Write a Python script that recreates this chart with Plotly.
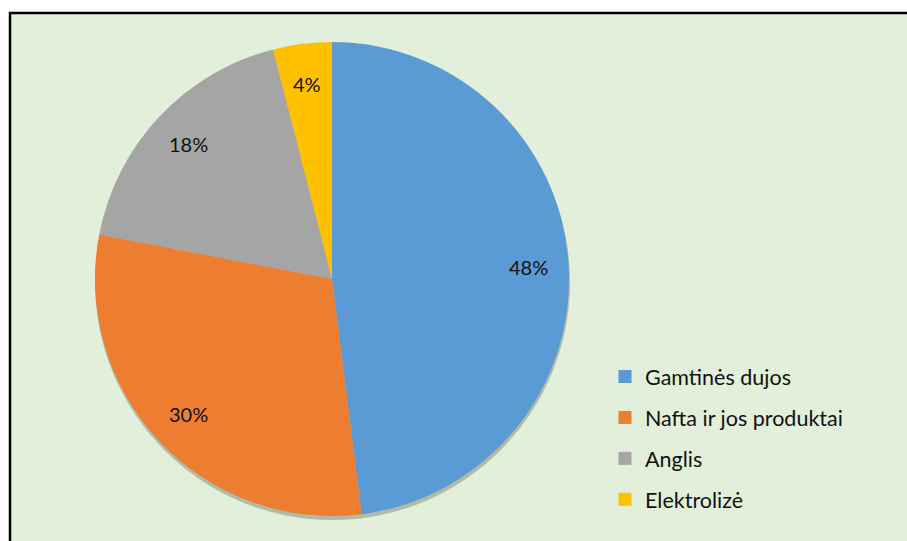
import math
import plotly.graph_objects as go

# Energy sources and their shares (%)
sources = ["Gamtinės dujos", "Nafta ir jos produktai", "Anglis", "Elektrolizė"]
shares = [48, 30, 18, 4]
colors = ["#5B9BD5", "#ED7D31", "#A5A5A5", "#FFC000"]

W, H = 907, 541
FONT = "Lato"

# pie placement in pixels
cx, cy, r = 332, 279, 237
label_radius = 0.83  # share labels sit in the outer part of each slice

fig = go.Figure()

fig.add_trace(go.Pie(
    labels=sources,
    values=shares,
    sort=False,
    direction="clockwise",
    rotation=0,
    marker=dict(colors=colors, line=dict(width=0)),
    textinfo="none",
    domain=dict(x=[(cx - r) / W, (cx + r) / W],
                y=[1 - (cy + r) / H, 1 - (cy - r) / H]),
    showlegend=False,
    hoverinfo="label+percent",
))

# share labels placed on each slice's bisector
total = sum(shares)
start = 0.0
annotations = []
for v in shares:
    mid = (start + v / 2) / total * 2 * math.pi
    start += v
    px = cx + label_radius * r * math.sin(mid)
    py = cy - label_radius * r * math.cos(mid)
    annotations.append(dict(
        x=px / W, y=1 - py / H, xref="paper", yref="paper",
        text=f"{v}%", showarrow=False,
        font=dict(family=FONT, size=20, color="#111111"),
        xanchor="center", yanchor="middle",
    ))

# legend entries, one group each so the gap between rows can be set
for name, col in zip(sources, colors):
    fig.add_trace(go.Scatter(
        x=[None], y=[None], mode="markers", name=name, legendgroup=name,
        marker=dict(symbol="square", size=13, color=col),
    ))

fig.update_layout(
    width=W, height=H,
    margin=dict(l=0, r=0, t=0, b=0),
    paper_bgcolor="white",
    plot_bgcolor="rgba(0,0,0,0)",
    xaxis=dict(visible=False, range=[0, 1]),
    yaxis=dict(visible=False, range=[0, 1]),
    showlegend=True,
    legend=dict(
        x=605 / W, y=1 - 356 / H, xanchor="left", yanchor="top",
        font=dict(family=FONT, size=21.5, color="#111111"),
        bgcolor="rgba(0,0,0,0)",
        tracegroupgap=10,
        itemclick=False, itemdoubleclick=False,
    ),
    annotations=annotations,
    shapes=[
        # chart area with its frame
        dict(type="rect", xref="paper", yref="paper", layer="below",
             x0=10 / W, x1=1.02, y0=-0.02, y1=1 - 13 / H,
             fillcolor="#E2EFDA", line=dict(color="black", width=2.5)),
        # soft shadow under the pie
        dict(type="circle", xref="paper", yref="paper", layer="below",
             x0=(cx - r) / W, x1=(cx + r + 1) / W,
             y0=1 - (cy + r + 4) / H, y1=1 - (cy - r + 2) / H,
             fillcolor="rgba(60,70,50,0.30)", line=dict(width=0)),
    ],
)

fig.write_html("out.html")
